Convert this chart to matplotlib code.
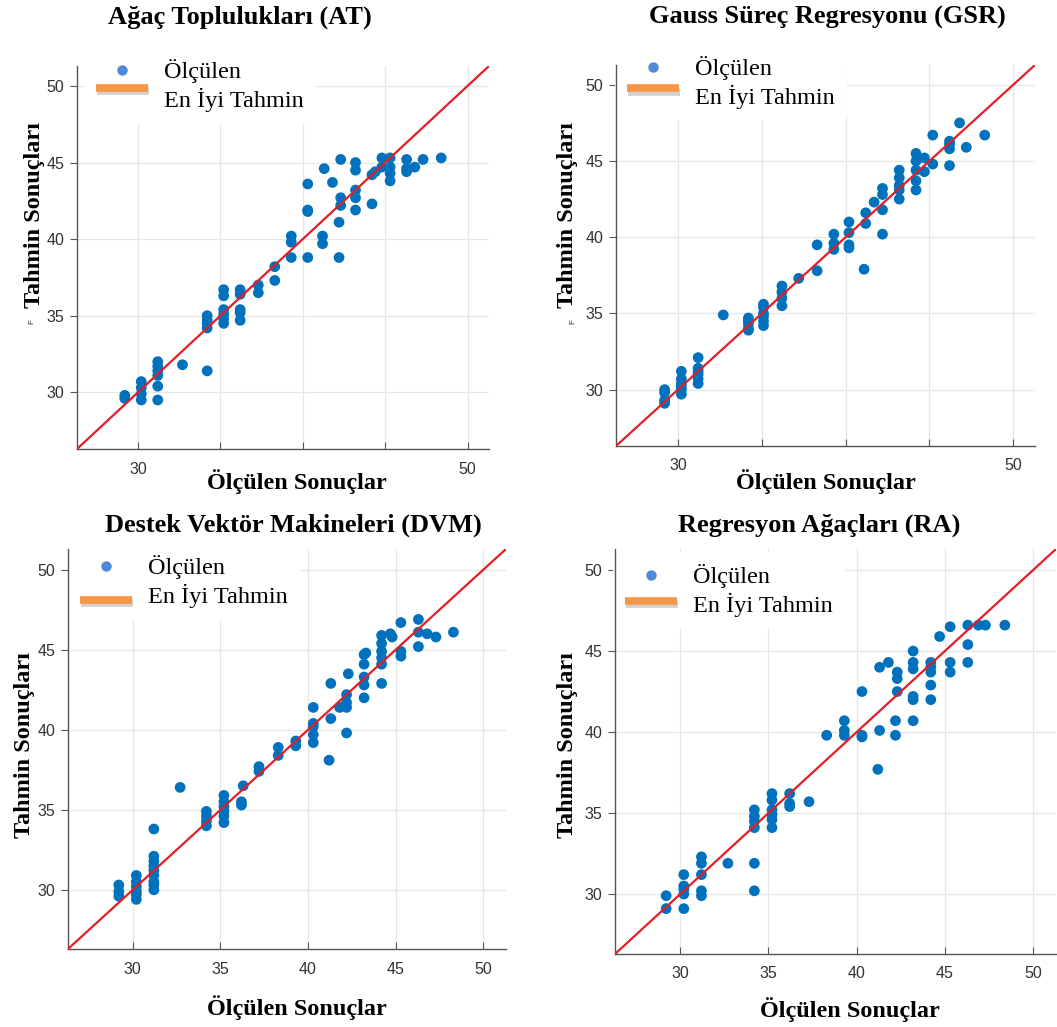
import numpy as np
import matplotlib.pyplot as plt
import matplotlib.patheffects as pe
from matplotlib.lines import Line2D
from matplotlib.legend_handler import HandlerLine2D

# ---- data ----
at_x = [29.2, 29.2, 30.2, 30.2, 30.2, 30.2, 31.2, 31.2, 31.2, 31.2, 31.2, 31.2,
        32.7, 34.2, 34.2, 34.2, 34.2, 34.2,
        35.2, 35.2, 35.2, 35.2, 35.2, 35.2, 36.2, 36.2, 36.2, 36.2, 36.2,
        37.3, 37.3, 38.3, 38.3, 39.3, 39.3, 39.3, 40.3, 40.3, 40.3, 40.3,
        41.2, 41.2, 41.3, 41.8, 42.2, 42.2, 42.3, 42.3, 42.3,
        43.2, 43.2, 43.2, 43.2, 43.2, 44.2, 44.2, 44.4, 44.8, 44.8,
        45.3, 45.3, 45.3, 45.3, 46.3, 46.3, 46.3, 46.8, 47.3, 48.4]
at_y = [29.8, 29.6, 30.7, 30.3, 29.9, 29.5, 32.0, 31.7, 31.4, 31.1, 30.4, 29.5,
        31.8, 31.4, 35.0, 34.7, 34.5, 34.2,
        36.7, 36.3, 35.4, 35.1, 34.8, 34.5, 36.7, 36.4, 35.4, 35.2, 34.7,
        37.0, 36.5, 38.2, 37.3, 40.2, 39.8, 38.8, 38.8, 41.9, 41.8, 43.6,
        40.2, 39.7, 44.6, 43.7, 38.8, 41.1, 42.2, 42.7, 45.2,
        41.9, 42.7, 43.2, 44.5, 45.0, 42.3, 44.2, 44.4, 44.7, 45.3,
        45.3, 44.7, 44.3, 43.8, 45.2, 44.6, 44.4, 44.7, 45.2, 45.3]

gsr_x = [29.2, 29.2, 29.2, 29.2, 30.2, 30.2, 30.2, 30.2, 30.2, 30.2,
         31.2, 31.2, 31.2, 31.2, 31.2, 31.2, 32.7,
         34.2, 34.2, 34.2, 34.2, 34.2, 35.1, 35.1, 35.1, 35.1, 35.1, 35.1,
         36.2, 36.2, 36.2, 36.2, 37.2, 38.3, 38.3, 39.3, 39.3, 39.3,
         40.2, 40.2, 40.2, 40.2, 41.1, 41.2, 41.2, 41.7, 42.2, 42.2, 42.2, 42.2,
         43.2, 43.2, 43.2, 43.2, 43.2, 44.2, 44.2, 44.2, 44.2, 44.2, 44.7, 44.7,
         45.2, 45.2, 46.2, 46.2, 46.2, 46.2, 46.8, 47.2, 48.3]
gsr_y = [30.0, 29.8, 29.3, 29.1, 31.2, 30.7, 30.4, 30.2, 30.0, 29.7,
         32.1, 31.4, 31.2, 31.0, 30.7, 30.4, 34.9,
         34.7, 34.5, 34.3, 34.0, 33.9, 35.6, 35.4, 35.0, 34.8, 34.5, 34.2,
         36.8, 36.4, 36.0, 35.5, 37.3, 39.5, 37.8, 40.2, 39.6, 39.2,
         41.0, 40.3, 39.5, 39.3, 37.9, 41.6, 40.9, 42.3, 43.2, 42.8, 41.8, 40.2,
         44.4, 43.9, 43.4, 43.1, 42.5, 45.5, 45.0, 44.4, 43.7, 43.1, 45.2, 44.3,
         46.7, 44.8, 46.3, 46.1, 45.8, 44.7, 47.5, 45.9, 46.7]

dvm_x = [29.2, 29.2, 29.2, 30.2, 30.2, 30.2, 30.2, 30.2, 30.2,
         31.2, 31.2, 31.2, 31.2, 31.2, 31.2, 31.2, 31.2, 31.2, 32.7,
         34.2, 34.2, 34.2, 34.2, 35.2, 35.2, 35.2, 35.2, 35.2, 35.2,
         36.3, 36.2, 36.2, 37.2, 37.2, 38.3, 38.3, 39.3, 39.3,
         40.3, 40.3, 40.3, 40.3, 40.3, 41.2, 41.3, 41.3, 41.8,
         42.2, 42.2, 42.2, 42.2, 42.3, 43.2, 43.3, 43.2, 43.2, 43.2, 43.2,
         44.2, 44.2, 44.2, 44.2, 44.2, 44.2, 44.7, 44.8, 45.3, 45.3, 45.3,
         46.3, 46.3, 46.3, 46.8, 47.3, 48.3]
dvm_y = [30.3, 29.9, 29.6, 30.9, 30.5, 30.2, 29.9, 29.7, 29.4,
         33.8, 32.1, 31.8, 31.5, 31.2, 30.9, 30.5, 30.3, 30.0, 36.4,
         34.9, 34.6, 34.3, 34.0, 35.9, 35.5, 35.2, 34.9, 34.6, 34.2,
         36.5, 35.5, 35.3, 37.7, 37.4, 38.9, 38.4, 39.3, 39.0,
         41.4, 40.4, 40.2, 39.7, 39.2, 38.1, 42.9, 40.7, 41.4,
         42.2, 41.7, 41.4, 39.8, 43.5, 44.7, 44.8, 44.1, 43.3, 42.8, 42.0,
         45.9, 45.4, 44.9, 44.5, 44.1, 42.9, 46.0, 45.8, 44.9, 44.6, 46.7,
         46.9, 46.1, 45.2, 46.0, 45.8, 46.1]

ra_x = [29.2, 29.2, 30.2, 30.2, 30.2, 30.2, 30.2, 31.2, 31.2, 31.2, 31.2, 31.2,
        32.7, 34.2, 34.2, 34.2, 34.2, 34.2, 34.2,
        35.2, 35.2, 35.2, 35.2, 35.2, 35.2, 36.2, 36.2, 36.2, 37.3,
        38.3, 39.3, 39.3, 39.3, 40.3, 40.3, 40.3,
        41.2, 41.3, 41.3, 41.8, 42.2, 42.2, 42.3, 42.3, 42.3,
        43.2, 43.2, 43.2, 43.2, 43.2, 43.2, 44.2, 44.2, 44.2, 44.2, 44.2,
        44.7, 45.3, 45.3, 45.3, 46.3, 46.3, 46.3, 46.9, 47.3, 48.4]
ra_y = [29.9, 29.1, 31.2, 30.5, 30.3, 30.0, 29.1, 32.3, 31.9, 31.2, 30.2, 29.9,
        31.9, 31.9, 30.2, 35.2, 34.8, 34.5, 34.1,
        36.2, 35.8, 35.2, 34.9, 34.6, 34.1, 36.2, 35.6, 35.4, 35.7,
        39.8, 40.7, 40.1, 39.8, 42.5, 39.8, 39.7,
        37.7, 40.1, 44.0, 44.3, 40.7, 39.8, 42.5, 43.3, 43.7,
        45.0, 44.3, 43.9, 42.2, 42.0, 40.7, 44.3, 44.0, 43.7, 42.9, 42.0,
        45.9, 46.5, 44.3, 43.7, 46.6, 45.4, 44.3, 46.6, 46.6, 46.6]

titles = ["Ağaç Toplulukları (AT)", "Gauss Süreç Regresyonu (GSR)",
          "Destek Vektör Makineleri (DVM)", "Regresyon Ağaçları (RA)"]
xs_all = [at_x, gsr_x, dvm_x, ra_x]
ys_all = [at_y, gsr_y, dvm_y, ra_y]
ticks = [30, 35, 40, 45, 50]
lims = (26.3, 51.3)

W, H = 1057, 1027
fig = plt.figure(figsize=(W / 100, H / 100), dpi=100)

def box(l, t, r, b):
    return [l / W, 1 - b / H, (r - l) / W, (b - t) / H]

# axes boxes in pixels (left, top, right, bottom)
boxes = [(77, 66, 489, 449), (616, 65, 1035, 446),
         (68, 549, 506, 949), (615, 549, 1056, 954)]
title_pos = [(240, 17), (827, 17), (293, 525), (819, 525)]
xlab_pos = [(297, 482), (826, 482), (297, 1008), (850, 1010)]
ylab_pos = [(35, 215), (568, 215), (25, 745), (567, 745)]
# legend frame top-left in pixels, and how far the bar sits above its row
leg_pos = [(84, 47), (615, 44), (68, 543), (613, 552)]
bar_shift = [0.45, 0.3, -0.2, 0.12]

serif = "Liberation Serif"
blue = "#0072BD"


class ShiftedLine(HandlerLine2D):
    def __init__(self, shift, **kw):
        super().__init__(**kw)
        self.shift = shift

    def create_artists(self, legend, orig_handle, xdescent, ydescent, width,
                       height, fontsize, trans):
        arts = super().create_artists(legend, orig_handle, xdescent, ydescent,
                                      width, height, fontsize, trans)
        for a in arts:
            a.set_ydata(np.asarray(a.get_ydata()) + self.shift * fontsize)
        return arts


for i in range(4):
    ax = fig.add_axes(box(*boxes[i]))
    ax.scatter(xs_all[i], ys_all[i], s=60, color=blue, edgecolors="none", zorder=3)
    ax.plot(lims, lims, color="#e31e24", lw=1.6, zorder=4)
    ax.set_xlim(lims)
    ax.set_ylim(lims)
    ax.set_xticks(ticks)
    ax.set_yticks(ticks)
    if i < 2:
        ax.set_xticklabels(["30", "", "", "", "50"])
    ax.grid(True, color="#e6e6e6", lw=0.9)
    ax.set_axisbelow(True)
    for s in ["top", "right"]:
        ax.spines[s].set_visible(False)
    for s in ["left", "bottom"]:
        ax.spines[s].set_color("#555555")
        ax.spines[s].set_linewidth(1.0)
    ax.tick_params(axis="y", direction="out", length=5, colors="#555555",
                   labelsize=11.5, pad=4)
    ax.tick_params(axis="x", direction="in", length=5, colors="#555555",
                   labelsize=11.5, pad=9)
    for lab in ax.get_xticklabels() + ax.get_yticklabels():
        lab.set_color("#333333")
        lab.set_family("Liberation Sans")

    h1 = Line2D([], [], ls="none", marker="o", ms=7.5, color="#4f8ad8",
                markeredgecolor="none")
    h2 = Line2D([], [], color="#f79646", lw=5.5, solid_capstyle="butt",
                path_effects=[pe.SimpleLineShadow(offset=(0.5, -2.5), alpha=0.18),
                              pe.Normal()])
    lx, ly = leg_pos[i]
    l, t, r, b = boxes[i]
    leg = ax.legend([h1, h2], ["Ölçülen", "En İyi Tahmin"], loc="upper left",
                    bbox_to_anchor=((lx - l) / (r - l), 1 - (ly - t) / (b - t)),
                    frameon=True, framealpha=1, edgecolor="none",
                    prop={"family": serif, "size": 17.5}, handlelength=2.15,
                    handletextpad=0.65, labelspacing=0.2, borderpad=0.5,
                    borderaxespad=0,
                    handler_map={h2: ShiftedLine(bar_shift[i])})
    leg.set_zorder(2)

    tx, ty = title_pos[i]
    fig.text(tx / W, 1 - ty / H, titles[i], ha="center", va="center",
             family=serif, weight="bold", size=19)
    xx, xy = xlab_pos[i]
    fig.text(xx / W, 1 - xy / H, "Ölçülen Sonuçlar", ha="center", va="center",
             family=serif, weight="bold", size=17.5)
    yx, yy = ylab_pos[i]
    fig.text(yx / W, 1 - yy / H, "Tahmin Sonuçları", ha="center", va="center",
             rotation=90, family=serif, weight="bold", size=17.5)

# small stray marks next to the upper y labels
fig.text(32 / W, 1 - 322 / H, "F", ha="center", va="center", rotation=90,
         family="Liberation Sans", size=6, color="#333333")
fig.text(573 / W, 1 - 322 / H, "F", ha="center", va="center", rotation=90,
         family="Liberation Sans", size=6, color="#333333")

fig.savefig("out.png", dpi=100)
